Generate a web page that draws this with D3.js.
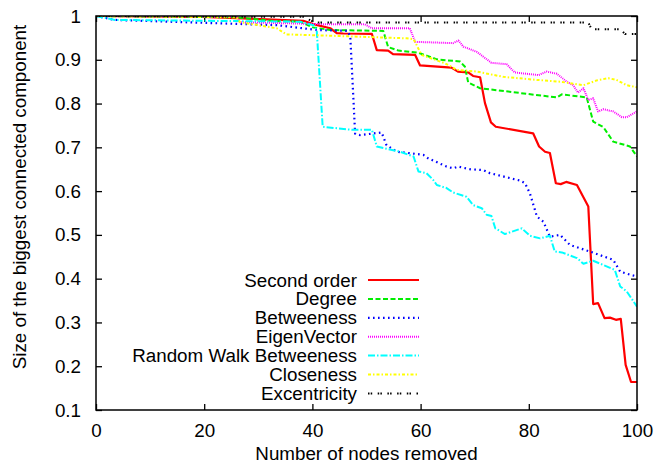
<!DOCTYPE html>
<html>
<head>
<meta charset="utf-8">
<script src="https://cdn.jsdelivr.net/npm/d3@7"></script>
<style>
  body { margin: 0; background: #fff; }
  text { font-family: "Liberation Sans", Arial, sans-serif; font-size: 18.8px; fill: #000; }
</style>
</head>
<body>
<div id="chart"></div>
<script>
// values: [nodes removed, size of biggest component]
const secondOrder = [[0,1],[19.8,0.998],[38.3,0.989],[40.9,0.979],[43.3,0.972],[44.5,0.961],[45.7,0.96],[51,0.959],[51.9,0.922],[54,0.921],[54.9,0.913],[59,0.911],[59.9,0.887],[65.7,0.882],[66.9,0.873],[68.8,0.871],[69.7,0.863],[71,0.86],[71.9,0.801],[73,0.757],[73.9,0.747],[80.8,0.732],[81.9,0.702],[83,0.69],[83.9,0.687],[85,0.618],[85.9,0.616],[86.9,0.621],[88.9,0.614],[91,0.565],[91.9,0.342],[92.8,0.344],[94,0.31],[95,0.311],[96.1,0.306],[97,0.308],[97.9,0.203],[98.9,0.164],[100,0.164]]
const degree = [[0,1],[26,0.997],[33.5,0.988],[37.7,0.987],[40.1,0.974],[43.3,0.968],[53.1,0.966],[54,0.929],[55.9,0.921],[59.6,0.916],[63,0.901],[67.3,0.896],[68.2,0.884],[68.8,0.848],[71,0.835],[85.2,0.814],[86.1,0.821],[90.7,0.814],[91.9,0.759],[93.8,0.746],[95.6,0.713],[98.7,0.702],[100,0.679]]
const betweeness = [[0,1],[3.5,0.991],[33.5,0.979],[40.9,0.968],[46.5,0.966],[47,0.953],[47.9,0.731],[48.8,0.728],[52.8,0.734],[53.7,0.705],[55.6,0.69],[60.5,0.683],[61.4,0.675],[64.8,0.656],[66,0.652],[67,0.656],[69.1,0.65],[71.6,0.648],[72.8,0.641],[78.4,0.624],[79.3,0.618],[80.2,0.595],[81.5,0.542],[82.7,0.53],[83.9,0.496],[85.8,0.5],[87.6,0.477],[91.3,0.462],[95.6,0.443],[96.9,0.416],[98.7,0.409],[100,0.405]]
const eigenVector = [[0,1],[26,0.998],[26.6,0.986],[43.3,0.981],[49.7,0.981],[51,0.972],[58,0.972],[59,0.941],[66,0.938],[67,0.944],[67.9,0.93],[70.4,0.918],[73.1,0.893],[75.9,0.89],[77.4,0.871],[81.8,0.865],[83.3,0.873],[85.2,0.868],[87,0.85],[88.2,0.842],[89.1,0.825],[90.1,0.835],[91,0.808],[91.9,0.812],[92.8,0.782],[93.8,0.787],[95.6,0.782],[97.2,0.769],[98.1,0.769],[100,0.782]]
const randomWalk = [[0,1],[3.5,0.991],[37.7,0.987],[40.2,0.979],[40.8,0.968],[41.9,0.747],[47.3,0.74],[51,0.74],[51.9,0.702],[54,0.696],[56.2,0.69],[58.7,0.679],[59.6,0.645],[61.1,0.641],[62.3,0.626],[63,0.614],[64.8,0.607],[66,0.597],[68.5,0.587],[69.7,0.568],[71.3,0.561],[72.2,0.546],[73.1,0.543],[73.8,0.515],[75.6,0.502],[78.7,0.515],[80.2,0.498],[82.1,0.492],[83.9,0.498],[84.8,0.462],[86.1,0.46],[88.9,0.447],[90.1,0.434],[91.9,0.441],[95.9,0.42],[96.9,0.382],[98.1,0.371],[100,0.336]]
const closeness = [[0,1],[26,0.997],[26.6,0.986],[33.4,0.972],[35.2,0.958],[43.3,0.955],[57.4,0.949],[58.7,0.947],[60.2,0.911],[64.5,0.892],[66.7,0.877],[70.4,0.873],[75.3,0.861],[81.5,0.854],[85.8,0.85],[90.1,0.842],[92.6,0.853],[94.7,0.858],[96.2,0.854],[98.1,0.842],[100,0.837]]
const excentricity = [[0,1],[38.3,0.998],[40.5,0.985],[91,0.985],[91.6,0.97],[96.9,0.97],[97.8,0.959],[100,0.959]]

const seriesNames = ["Second order", "Degree", "Betweeness", "EigenVector", "Random Walk Betweeness", "Closeness", "Excentricity"]
const seriesData = [secondOrder, degree, betweeness, eigenVector, randomWalk, closeness, excentricity]

const xTicks = [0, 20, 40, 60, 80, 100]
const yTicks = [0.1, 0.2, 0.3, 0.4, 0.5, 0.6, 0.7, 0.8, 0.9, 1]

// gnuplot-like line styles
const styles = [
  { color: "#ff0000", dash: null, width: 2.2 },
  { color: "#00ee00", dash: "5,2.5", width: 2 },
  { color: "#0000ff", dash: "1.6,3.4", width: 2.2 },
  { color: "#ff00ff", dash: "1,1", width: 2 },
  { color: "#00ffff", dash: "7,2,1.5,2", width: 2 },
  { color: "#ffff00", dash: "3,2,1.5,2", width: 2 },
  { color: "#000000", dash: "1.5,1.2,1.5,5.5", width: 2 }
]

const margin = { top: 16, right: 21, bottom: 53, left: 96 }
const W = 658, H = 463
const width = W - margin.left - margin.right
const height = H - margin.top - margin.bottom

const svg = d3.select("#chart").append("svg")
  .attr("width", W)
  .attr("height", H)
const g = svg.append("g")
  .attr("transform", `translate(${margin.left},${margin.top})`)

const x = d3.scaleLinear().domain([0, 100]).range([0, width])
const y = d3.scaleLinear().domain([0.1, 1]).range([height, 0])

g.append("clipPath").attr("id", "clip")
  .append("rect").attr("width", width).attr("height", height)

// axes: ticks point inward, mirrored on top and right
const tick = 6
g.append("g")
  .attr("transform", `translate(0,${height})`)
  .call(d3.axisBottom(x).tickValues(xTicks).tickSize(-tick).tickPadding(tick + 8).tickFormat(d3.format("d")))
g.append("g")
  .call(d3.axisTop(x).tickValues(xTicks).tickSize(-tick).tickFormat(""))
g.append("g")
  .call(d3.axisLeft(y).tickValues(yTicks).tickSize(-tick).tickPadding(tick + 9).tickFormat(d => d === 1 ? "1" : d3.format(".1f")(d)))
g.append("g")
  .attr("transform", `translate(${width},0)`)
  .call(d3.axisRight(y).tickValues(yTicks).tickSize(-tick).tickFormat(""))

g.selectAll(".domain").remove()
g.selectAll(".tick line").attr("stroke", "#000").attr("stroke-width", 1.3)
g.selectAll(".tick text").attr("font-size", null).attr("font-family", null)

const line = d3.line().x(d => x(d[0])).y(d => y(d[1]))

g.append("g").attr("clip-path", "url(#clip)")
  .selectAll("path")
  .data(seriesData)
  .join("path")
  .attr("d", line)
  .attr("fill", "none")
  .attr("stroke", (d, i) => styles[i].color)
  .attr("stroke-width", (d, i) => styles[i].width)
  .attr("stroke-dasharray", (d, i) => styles[i].dash)
  .attr("stroke-linejoin", "round")

// frame
g.append("rect")
  .attr("width", width)
  .attr("height", height)
  .attr("fill", "none")
  .attr("stroke", "#000")
  .attr("stroke-width", 1.5)

// legend
const legend = svg.append("g")
  .selectAll("g")
  .data(seriesNames)
  .join("g")
  .attr("transform", (d, i) => `translate(0,${280 + i * 18.9})`)
legend.append("text")
  .attr("x", 357)
  .attr("y", 6.5)
  .attr("text-anchor", "end")
  .text(d => d)
legend.append("line")
  .attr("x1", 368).attr("x2", 419)
  .attr("stroke", (d, i) => styles[i].color)
  .attr("stroke-width", (d, i) => styles[i].width)
  .attr("stroke-dasharray", (d, i) => styles[i].dash)

// axis titles
svg.append("text")
  .attr("x", margin.left + width / 2)
  .attr("y", 460)
  .attr("text-anchor", "middle")
  .text("Number of nodes removed")
svg.append("text")
  .attr("transform", `translate(26,${margin.top + height / 2 - 16}) rotate(-90)`)
  .attr("text-anchor", "middle")
  .text("Size of the biggest connected component")
</script>
</body>
</html>
